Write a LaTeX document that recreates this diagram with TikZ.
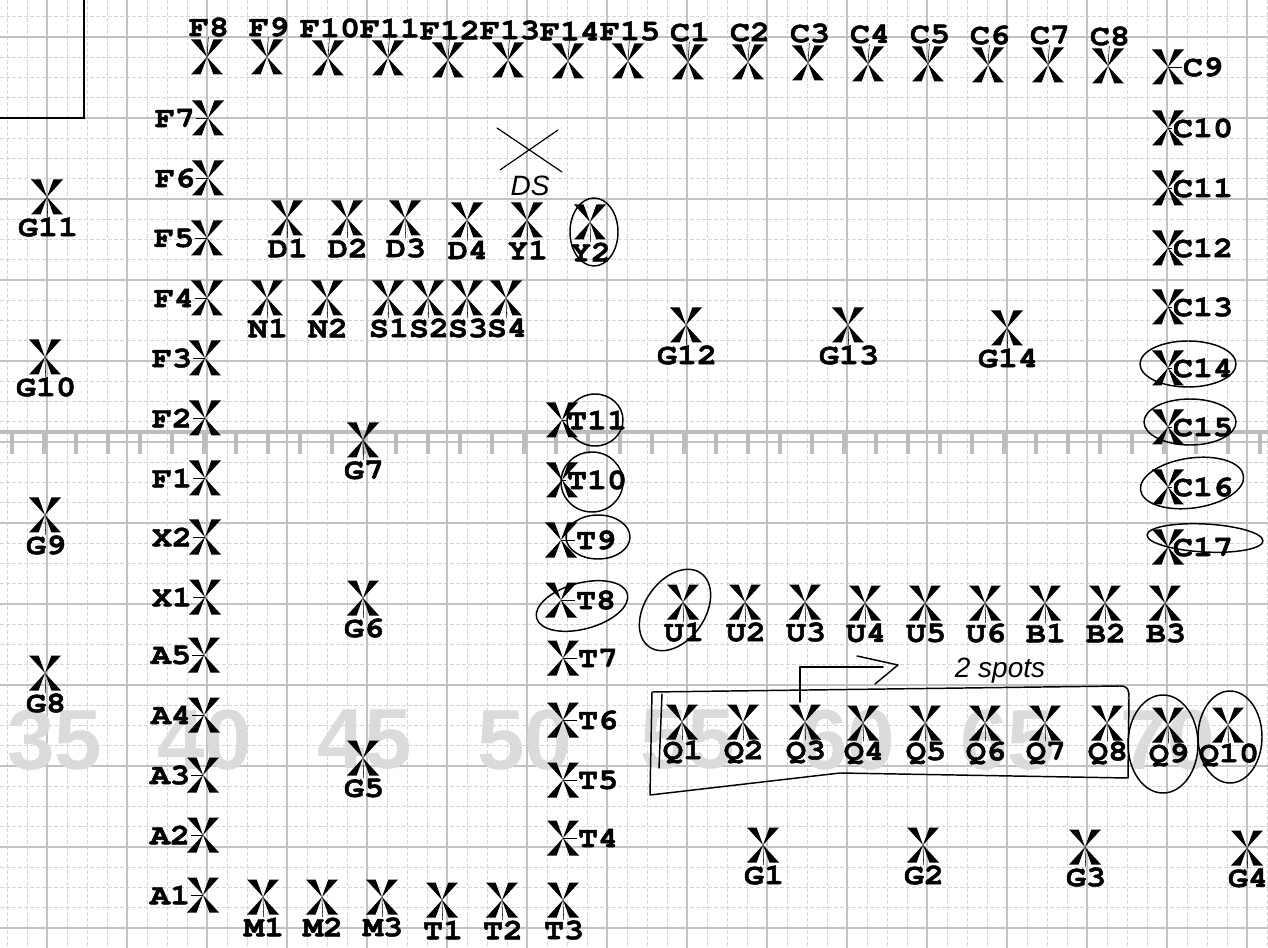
\documentclass[tikz,border=0pt]{standalone}
\usepackage{fontspec}
\usetikzlibrary{calc}
\newfontfamily\labfont[FakeStretch=1.14,FakeBold=1.6]{TeX Gyre Cursor}
\newfontfamily\handfont{Liberation Sans}

\tikzset{every picture/.style={line width=0.75pt},
  xmark/.style={inner sep=0pt, minimum width=24pt, minimum height=26.25pt,
    path picture={
      \fill (path picture bounding box.center) -- (path picture bounding box.north west) -- ($(path picture bounding box.north west)!0.3!(path picture bounding box.north east)$) -- cycle;
      \fill (path picture bounding box.center) -- (path picture bounding box.north east) -- ($(path picture bounding box.north east)!0.3!(path picture bounding box.north west)$) -- cycle;
      \fill (path picture bounding box.center) -- (path picture bounding box.south west) -- ($(path picture bounding box.south west)!0.3!(path picture bounding box.south east)$) -- cycle;
      \fill (path picture bounding box.center) -- (path picture bounding box.south east) -- ($(path picture bounding box.south east)!0.3!(path picture bounding box.south west)$) -- cycle;
    }},
  lbl/.style={inner sep=0pt, font=\labfont\bfseries\fontsize{22}{22}\selectfont},
  leader/.style={line width=0.4pt},
  ink/.style={line width=1.1pt, line cap=round, line join=round},
  hand/.style={inner sep=0pt, font=\handfont\itshape\fontsize{21}{21}\selectfont},
  bgnum/.style={inner sep=0pt, text=black!14, font=\handfont\bfseries\fontsize{64}{64}\selectfont},
  minorgrid/.style={black!16, line width=0.5pt, dash pattern={on 3pt off 1.5pt}},
  majorgrid/.style={black!24, line width=1.4pt},
  ruler/.style={black!26, line width=2.4pt},
}

\begin{document}
\begin{tikzpicture}[x=0.75pt,y=0.75pt,yscale=-1,xscale=1]
\useasboundingbox (0,0) rectangle (1268,948);

%Shape: Grid [graph paper]
\foreach \i in {0,...,63} \draw[minorgrid] (7+20*\i,0) -- (7+20*\i,948);
\foreach \k in {-1,...,45} \draw[minorgrid] (0,37+20.25*\k) -- (1268,37+20.25*\k);
\foreach \i in {0,...,15} \draw[majorgrid] (47+80*\i,0) -- (47+80*\i,948);
\foreach \i in {0,...,7} \draw[majorgrid, line width=2.2pt] (47+160*\i,0) -- (47+160*\i,948);
\foreach \k in {0,...,11} \draw[majorgrid] (0,37+81*\k) -- (1268,37+81*\k);

%Shape: Ruler
\draw[ruler] (0,432) -- (1268,432);
\foreach \k in {0,...,39} \draw[ruler] (12+32*\k,432) -- (12+32*\k,454);

% Text Node [show-through numbers]
\node[bgnum] (n35) at (55,740) {35};
\node[bgnum] (n40) at (205,740) {40};
\node[bgnum] (n45) at (365,740) {45};
\node[bgnum] (n50) at (525,740) {50};
\node[bgnum] (n55) at (688,740) {55};
\node[bgnum] (n60) at (848,740) {60};
\node[bgnum] (n65) at (1008,740) {65};
\node[bgnum] (n70) at (1168,740) {70};

%Shape: Corner box
\draw[line width=1pt] (0,118) -- (84,118) -- (84,0);

%Marks: label above
\foreach \n/\x/\y in {F8/207/57, F9/267/57, F10/328/58, F11/388/58, F12/448/60, F13/508/60,
    F14/568/61, F15/628/61, C1/688/62, C2/748/62, C3/808/63, C4/868/64, C5/928/64,
    C6/988/65, C7/1048/65, C8/1108/66}{
  \node[xmark] (\n) at (\x,\y) {};
  \node[lbl] (l\n) at (\x+2,\y-30) {\n};
  \draw[leader] (\n.center) -- (l\n);
}

%Marks: label left
\foreach \n/\x/\y in {F7/208/118, F6/208/178, F5/207/238, F4/207/298, F3/205/358, F2/205/418,
    F1/205/478, X2/205/537, X1/205/597, A5/204/655, A4/204/715, A3/203/775, A2/203/835, A1/203/895}{
  \node[xmark] (\n) at (\x,\y) {};
  \node[lbl] (l\n) at (\x-33,\y) {\n};
  \draw[leader] (\n.center) -- (l\n);
}

%Marks: label right
\foreach \n/\x/\y in {C9/1168/67, C10/1168/128, C11/1168/188, C12/1168/248, C13/1168/307,
    C14/1168/368, C15/1168/427, C16/1168/487, C17/1168/547,
    T11/562/420, T10/562/480, T9/561/540, T8/561/600, T7/563/658, T6/563/720, T5/563/780, T4/563/838}{
  \node[xmark] (\n) at (\x,\y) {};
  \node[lbl] (l\n) at (\x+35,\y) {\n};
  \draw[leader] (\n.center) -- (l\n);
}

%Marks: label below
\foreach \n/\x/\y in {G11/47/197, G10/45/357, G9/45/515, G8/45/673,
    D1/287/218, D2/347/218, D3/405/218, D4/467/220, Y1/527/220, Y2/590/222,
    N1/267/298, N2/327/298, S1/388/298, S2/428/298, S3/467/298, S4/506/298,
    G12/686/325, G13/848/325, G14/1007/328, G7/363/440, G6/363/598, G5/363/758,
    M1/263/897, M2/322/897, M3/382/897, T1/442/900, T2/502/900, T3/563/900,
    U1/683/602, U2/745/602, U3/805/602, U4/865/603, U5/925/603, U6/985/603,
    B1/1045/603, B2/1105/603, B3/1165/603,
    Q1/682/722, Q2/743/722, Q3/805/722, Q4/863/723, Q5/925/723, Q6/985/723,
    Q7/1045/723, Q8/1107/723, Q9/1168/725, Q10/1228/725,
    G1/763/845, G2/923/845, G3/1085/847, G4/1247/848}{
  \node[xmark] (\n) at (\x,\y) {};
  \node[lbl] (l\n) at (\x+1,\y+30) {\n};
  \draw[leader] (\n.center) -- (l\n);
}

%Straight Lines [hand-drawn X]
\draw[ink, line width=0.9pt] (497,128) -- (562,172);
\draw[ink, line width=0.9pt] (558,130) -- (500,170);
% Text Node
\node[hand] (ds) at (530,186) {DS};

%Shape: Ellipse [circled marks]
\draw[ink] (594,232) ellipse [x radius=24, y radius=34];
\draw[ink] (595,420) ellipse [x radius=28, y radius=26];
\draw[ink] (592,482) ellipse [x radius=31, y radius=30];
\draw[ink] (598,537) ellipse [x radius=32, y radius=22];
\draw[ink, rotate around={-15:(582,606)}] (582,606) ellipse [x radius=47, y radius=23];
\draw[ink, rotate around={35:(675,610)}] (675,610) ellipse [x radius=30, y radius=45];
\draw[ink] (1188,364) ellipse [x radius=48, y radius=23];
\draw[ink] (1190,422) ellipse [x radius=46, y radius=23];
\draw[ink, rotate around={-8:(1192,483)}] (1192,483) ellipse [x radius=52, y radius=25];
\draw[ink, rotate around={3:(1205,538)}] (1205,538) ellipse [x radius=58, y radius=14];
\draw[ink] (1163,744) ellipse [x radius=35, y radius=49];
\draw[ink] (1230,737) ellipse [x radius=32, y radius=46];

%Shape: Box round Q1-Q8
\draw[ink] (652,692) -- (1120,686) .. controls (1128,686) and (1129,690) .. (1129,697) -- (1128,778) -- (840,773) -- (650,795) -- cycle;
\draw[ink] (662,694) -- (659,768);

%Straight Lines [bracket and arrow]
\draw[ink] (800,702) -- (800,667) -- (883,667);
\draw[ink] (857,656) -- (898,665) -- (875,684);
% Text Node
\node[hand] (spots) at (1000,671) {2 spots};

\end{tikzpicture}
\end{document}
